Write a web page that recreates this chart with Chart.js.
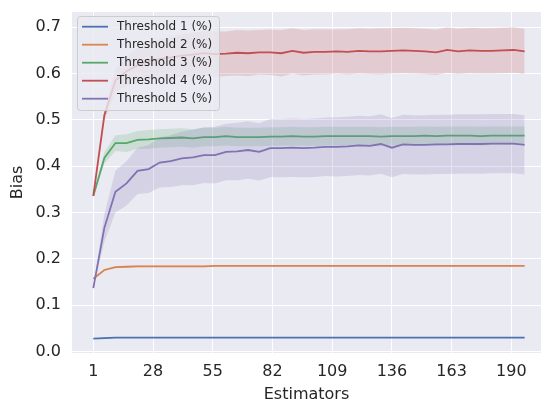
<!DOCTYPE html>
<html>
<head>
<meta charset="utf-8">
<script src="https://cdn.jsdelivr.net/npm/chart.js@4/dist/chart.umd.min.js"></script>
<style>
  html, body { margin: 0; padding: 0; background: #ffffff; overflow: hidden; }
  #wrap { width: 541px; height: 403px; position: relative; }
</style>
</head>
<body>
<div id="wrap"><canvas id="biasChart" width="541" height="403"></canvas></div>
<script>
// data
const estimators = [1, 6, 11, 16, 21, 26, 31, 36, 41, 46, 51, 56, 61, 66, 71, 76, 81, 86, 91, 96,
  101, 106, 111, 116, 121, 126, 131, 136, 141, 146, 151, 156, 161, 166, 171, 176, 181, 186, 191, 196];
const xTicks = [1, 28, 55, 82, 109, 136, 163, 190];
const yTicks = [0.0, 0.1, 0.2, 0.3, 0.4, 0.5, 0.6, 0.7];
const seriesLabels = ['Threshold 1 (%)', 'Threshold 2 (%)', 'Threshold 3 (%)', 'Threshold 4 (%)', 'Threshold 5 (%)'];

const t1Bias = [0.028, 0.029, 0.030, 0.030, 0.030, 0.030, 0.030, 0.030, 0.030, 0.030,
  0.030, 0.030, 0.030, 0.030, 0.030, 0.030, 0.030, 0.030, 0.030, 0.030,
  0.030, 0.030, 0.030, 0.030, 0.030, 0.030, 0.030, 0.030, 0.030, 0.030,
  0.030, 0.030, 0.030, 0.030, 0.030, 0.030, 0.030, 0.030, 0.030, 0.030];
const t1Spread = [0, 0.001, 0.001, 0.001, 0.001, 0.001, 0.001, 0.001, 0.001, 0.001,
  0.001, 0.001, 0.001, 0.001, 0.001, 0.001, 0.001, 0.001, 0.001, 0.001,
  0.001, 0.001, 0.001, 0.001, 0.001, 0.001, 0.001, 0.001, 0.001, 0.001,
  0.001, 0.001, 0.001, 0.001, 0.001, 0.001, 0.001, 0.001, 0.001, 0.001];

const t2Bias = [0.157, 0.176, 0.182, 0.183, 0.184, 0.184, 0.184, 0.184, 0.184, 0.184,
  0.184, 0.185, 0.185, 0.185, 0.185, 0.185, 0.185, 0.185, 0.185, 0.185,
  0.185, 0.185, 0.185, 0.185, 0.185, 0.185, 0.185, 0.185, 0.185, 0.185,
  0.185, 0.185, 0.185, 0.185, 0.185, 0.185, 0.185, 0.185, 0.185, 0.185];
const t2Spread = [0, 0.002, 0.002, 0.002, 0.002, 0.002, 0.002, 0.002, 0.002, 0.002,
  0.002, 0.002, 0.002, 0.002, 0.002, 0.002, 0.002, 0.002, 0.002, 0.002,
  0.002, 0.002, 0.002, 0.002, 0.002, 0.002, 0.002, 0.002, 0.002, 0.002,
  0.002, 0.002, 0.002, 0.002, 0.002, 0.002, 0.002, 0.002, 0.002, 0.002];

const t3Bias = [0.336, 0.418, 0.450, 0.450, 0.457, 0.458, 0.460, 0.461, 0.462, 0.460,
  0.463, 0.463, 0.465, 0.463, 0.463, 0.463, 0.464, 0.464, 0.465, 0.464,
  0.464, 0.465, 0.465, 0.465, 0.465, 0.465, 0.464, 0.465, 0.465, 0.465,
  0.466, 0.465, 0.466, 0.466, 0.466, 0.465, 0.466, 0.466, 0.466, 0.466];
const t3Spread = [0, 0.012, 0.017, 0.019, 0.019, 0.020, 0.020, 0.020, 0.020, 0.020,
  0.020, 0.020, 0.020, 0.020, 0.020, 0.020, 0.020, 0.020, 0.020, 0.020,
  0.020, 0.020, 0.020, 0.020, 0.020, 0.020, 0.020, 0.020, 0.020, 0.020,
  0.020, 0.020, 0.020, 0.020, 0.020, 0.020, 0.020, 0.020, 0.020, 0.020];

const t4Bias = [0.336, 0.510, 0.585, 0.605, 0.618, 0.627, 0.632, 0.635, 0.639, 0.641,
  0.644, 0.642, 0.643, 0.645, 0.644, 0.646, 0.646, 0.644, 0.649, 0.645,
  0.647, 0.647, 0.648, 0.647, 0.649, 0.648, 0.648, 0.649, 0.650, 0.649,
  0.648, 0.646, 0.651, 0.648, 0.650, 0.649, 0.649, 0.650, 0.651, 0.648];
const t4Spread = [0, 0.010, 0.025, 0.032, 0.036, 0.040, 0.042, 0.044, 0.046, 0.047,
  0.048, 0.049, 0.048, 0.049, 0.049, 0.048, 0.049, 0.050, 0.049, 0.049,
  0.049, 0.049, 0.048, 0.049, 0.049, 0.049, 0.050, 0.049, 0.049, 0.049,
  0.049, 0.049, 0.049, 0.049, 0.049, 0.049, 0.049, 0.049, 0.049, 0.049];

const t5Bias = [0.137, 0.267, 0.345, 0.363, 0.390, 0.394, 0.408, 0.411, 0.417, 0.419,
  0.424, 0.424, 0.431, 0.432, 0.435, 0.431, 0.439, 0.439, 0.440, 0.439,
  0.440, 0.442, 0.442, 0.443, 0.445, 0.444, 0.448, 0.440, 0.447, 0.446,
  0.446, 0.447, 0.447, 0.448, 0.448, 0.448, 0.449, 0.449, 0.449, 0.446];
const t5Spread = [0, 0.030, 0.045, 0.048, 0.050, 0.052, 0.054, 0.056, 0.058, 0.060,
  0.060, 0.061, 0.061, 0.062, 0.062, 0.062, 0.063, 0.063, 0.063, 0.063,
  0.063, 0.063, 0.064, 0.064, 0.064, 0.064, 0.064, 0.064, 0.064, 0.064,
  0.064, 0.064, 0.064, 0.064, 0.064, 0.064, 0.064, 0.064, 0.064, 0.064];

const seriesBias = [t1Bias, t2Bias, t3Bias, t4Bias, t5Bias];
const seriesSpread = [t1Spread, t2Spread, t3Spread, t4Spread, t5Spread];

// seaborn "deep" palette
const colors = ['#4c72b0', '#dd8452', '#55a868', '#c44e52', '#8172b3'];
const bandColors = ['rgba(76,114,176,0.2)', 'rgba(221,132,82,0.2)', 'rgba(85,168,104,0.2)',
  'rgba(196,78,82,0.2)', 'rgba(129,114,179,0.2)'];

const textColor = '#262626';
Chart.defaults.font.family = "'DejaVu Sans', sans-serif";
Chart.defaults.color = textColor;

const toPoints = values => values.map((v, i) => ({ x: estimators[i], y: v }));

// band + mean line per threshold; later thresholds are drawn on top
const datasets = [];
seriesBias.forEach((bias, s) => {
  const spread = seriesSpread[s];
  const layer = seriesBias.length - s;
  datasets.push({
    label: 'lower',
    data: toPoints(bias.map((v, i) => v - spread[i])),
    borderWidth: 0,
    pointRadius: 0,
    fill: false,
    order: layer
  });
  datasets.push({
    label: 'upper',
    data: toPoints(bias.map((v, i) => v + spread[i])),
    borderWidth: 0,
    pointRadius: 0,
    backgroundColor: bandColors[s],
    fill: '-1',
    order: layer
  });
  datasets.push({
    label: seriesLabels[s],
    data: toPoints(bias),
    borderColor: colors[s],
    borderWidth: 1.8,
    pointRadius: 0,
    fill: false,
    tension: 0,
    order: layer
  });
});

// legend box drawn inside the plot, matplotlib style
const innerLegend = {
  id: 'innerLegend',
  afterDatasetsDraw(chart) {
    const ctx = chart.ctx;
    const x0 = 77.5, y0 = 16.5, w = 142, h = 94, r = 3;
    ctx.save();
    ctx.beginPath();
    ctx.roundRect(x0, y0, w, h, r);
    ctx.fillStyle = 'rgba(234,234,242,0.8)';
    ctx.fill();
    ctx.strokeStyle = '#cccccc';
    ctx.lineWidth = 1;
    ctx.stroke();
    ctx.font = "12px 'DejaVu Sans'";
    ctx.textBaseline = 'middle';
    seriesLabels.forEach((label, i) => {
      const y = 26.7 + i * 18;
      ctx.beginPath();
      ctx.moveTo(82, y);
      ctx.lineTo(108, y);
      ctx.strokeStyle = colors[i];
      ctx.lineWidth = 1.8;
      ctx.stroke();
      ctx.fillStyle = textColor;
      ctx.fillText(label, 117, y + 0.5);
    });
    ctx.restore();
  }
};

const plotBackground = {
  id: 'plotBackground',
  beforeDraw(chart) {
    const { ctx, chartArea } = chart;
    ctx.save();
    ctx.fillStyle = '#eaeaf2';
    ctx.fillRect(chartArea.left, chartArea.top, chartArea.right - chartArea.left, chartArea.bottom - chartArea.top);
    ctx.restore();
  }
};

new Chart(document.getElementById('biasChart'), {
  type: 'line',
  data: { datasets },
  options: {
    responsive: false,
    animation: false,
    devicePixelRatio: 1,
    layout: { padding: { top: 12, right: 0, left: 0, bottom: 0 } },
    plugins: {
      legend: { display: false },
      tooltip: { enabled: false },
      filler: { propagate: false }
    },
    scales: {
      x: {
        type: 'linear',
        min: -8.63,
        max: 203.4,
        afterBuildTicks: scale => { scale.ticks = xTicks.map(v => ({ value: v })); },
        afterFit: scale => {
          scale.height = 50;
          scale.paddingLeft = 0;
          scale.paddingRight = 0;
        },
        grid: { color: '#ffffff', lineWidth: 1, drawTicks: false },
        border: { display: false },
        ticks: { font: { size: 16 }, color: textColor, padding: 9, maxRotation: 0 },
        title: { display: true, text: 'Estimators', font: { size: 16, lineHeight: 1 }, color: textColor, padding: 0 }
      },
      y: {
        min: -0.0032,
        max: 0.733,
        afterBuildTicks: scale => { scale.ticks = yTicks.map(v => ({ value: v })); },
        afterFit: scale => {
          scale.width = 72;
          scale.paddingTop = 0;
          scale.paddingBottom = 0;
        },
        grid: { color: '#ffffff', lineWidth: 1, drawTicks: false },
        border: { display: false },
        ticks: { font: { size: 16 }, color: textColor, padding: 11, callback: v => v.toFixed(1) },
        title: { display: true, text: 'Bias', font: { size: 16, lineHeight: 1 }, color: textColor, padding: { top: 10, bottom: 0 } }
      }
    }
  },
  plugins: [plotBackground, innerLegend]
});
</script>
</body>
</html>
